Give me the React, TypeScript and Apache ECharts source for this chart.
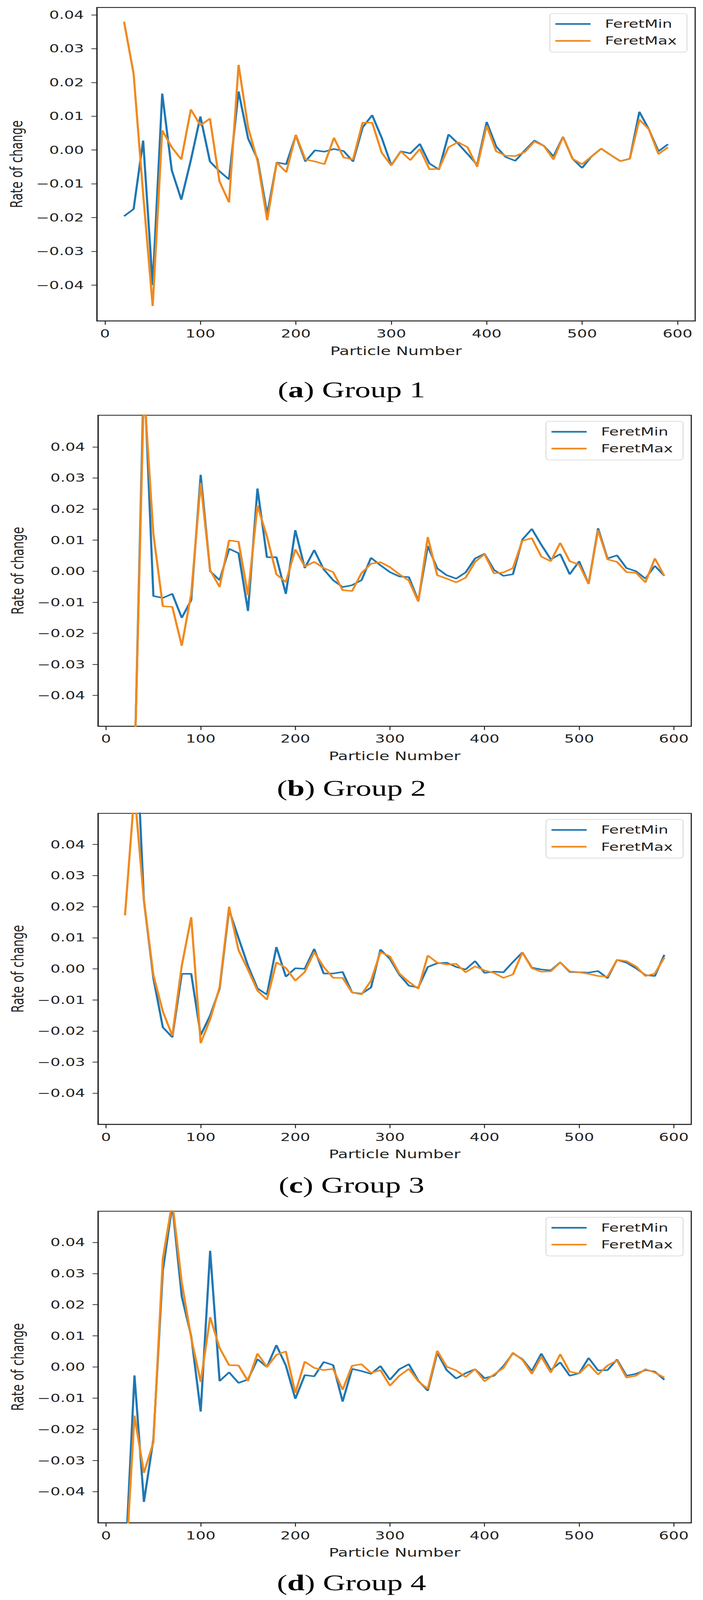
import React, { useEffect, useRef } from "react";
import * as echarts from "echarts";

// ---------- data ----------
const particleNumbers = [
  20, 30, 40, 50, 60, 70, 80, 90, 100, 110, 120, 130, 140, 150, 160, 170, 180, 190, 200, 210,
  220, 230, 240, 250, 260, 270, 280, 290, 300, 310, 320, 330, 340, 350, 360, 370, 380, 390, 400,
  410, 420, 430, 440, 450, 460, 470, 480, 490, 500, 510, 520, 530, 540, 550, 560, 570, 580, 590,
];

const group1FeretMin = [
  -0.0196, -0.0175, 0.0028, -0.04, 0.0167, -0.006, -0.0147, -0.003, 0.0099, -0.0034, -0.0063,
  -0.0087, 0.0173, 0.0034, -0.0028, -0.019, -0.0037, -0.0042, 0.0043, -0.0034, -0.0001, -0.0005,
  0.0003, -0.0003, -0.0034, 0.0067, 0.0103, 0.0036, -0.0045, -0.0004, -0.001, 0.0018, -0.004,
  -0.0058, 0.0046, 0.0019, -0.0012, -0.0044, 0.0083, 0.001, -0.0021, -0.0032, -0.0001, 0.0028,
  0.0012, -0.0019, 0.0039, -0.0026, -0.0053, -0.0019, 0.0004, -0.0015, -0.0033, -0.0026, 0.0113,
  0.0061, -0.0004, 0.0017,
];
const group1FeretMax = [
  0.038, 0.0226, -0.013, -0.0462, 0.0058, 0.0008, -0.0028, 0.012, 0.0073, 0.0093, -0.0093,
  -0.0155, 0.0252, 0.0067, -0.0034, -0.0208, -0.0037, -0.0066, 0.0045, -0.0028, -0.0034, -0.0042,
  0.0036, -0.0022, -0.0028, 0.0081, 0.0081, -0.0008, -0.0046, -0.0004, -0.003, 0.0003, -0.0057,
  -0.0056, 0.0008, 0.0023, 0.0008, -0.005, 0.0072, -0.0004, -0.0017, -0.0018, -0.0006, 0.0025,
  0.0012, -0.0028, 0.0039, -0.0026, -0.0042, -0.0019, 0.0004, -0.0015, -0.0033, -0.0026, 0.009,
  0.0061, -0.0012, 0.0008,
];

const group2FeretMin = [
  -0.08, -0.065, 0.065, -0.008, -0.0086, -0.0073, -0.015, -0.0093, 0.031, 0.0, -0.0029, 0.0072,
  0.0058, -0.0128, 0.0266, 0.0045, 0.0045, -0.0073, 0.0132, 0.001, 0.0068, 0.0006, -0.0029,
  -0.0051, -0.0045, -0.0029, 0.0043, 0.0019, -0.0003, -0.0017, -0.0019, -0.0095, 0.0081, 0.0009,
  -0.0013, -0.0024, -0.0004, 0.0041, 0.0056, 0.0004, -0.0015, -0.001, 0.0102, 0.0136, 0.0085,
  0.0038, 0.0055, -0.001, 0.0032, -0.0041, 0.0138, 0.0041, 0.0051, 0.001, 0.0, -0.0024, 0.0017,
  -0.0015,
];
const group2FeretMax = [
  -0.08, -0.065, 0.059, 0.012, -0.0113, -0.0115, -0.024, -0.0073, 0.0284, 0.0003, -0.0051, 0.0099,
  0.0095, -0.0077, 0.0211, 0.0112, -0.001, -0.0035, 0.007, 0.0015, 0.003, 0.001, -0.0003, -0.0061,
  -0.0064, -0.0006, 0.0024, 0.0029, 0.0013, -0.001, -0.003, -0.0098, 0.011, -0.0013, -0.0024,
  -0.0036, -0.0021, 0.003, 0.0055, -0.0007, -0.0004, 0.001, 0.0098, 0.0106, 0.0047, 0.0032, 0.0091,
  0.0032, 0.0021, -0.0041, 0.0132, 0.0038, 0.003, -0.0003, -0.0005, -0.0036, 0.0041, -0.0015,
];

const group3FeretMin = [
  0.06, 0.088, 0.022, -0.003, -0.0188, -0.022, -0.0016, -0.0016, -0.0213, -0.015, -0.0064, 0.019,
  0.0099, 0.001, -0.0063, -0.0083, 0.007, -0.0025, 0.0002, 0.0, 0.0064, -0.0015, -0.0015, -0.001,
  -0.0076, -0.008, -0.006, 0.0062, 0.0032, -0.0019, -0.0054, -0.006, 0.0006, 0.0018, 0.002, 0.0006,
  -0.0002, 0.0025, -0.0013, -0.0009, -0.0011, 0.0022, 0.0053, 0.0004, -0.0002, -0.0005, 0.0021,
  -0.001, -0.0011, -0.0012, -0.0007, -0.003, 0.0029, 0.002, 0.0002, -0.002, -0.0023, 0.0045,
];
const group3FeretMax = [
  0.0172, 0.057, 0.022, -0.002, -0.0137, -0.0215, 0.001, 0.0166, -0.0239, -0.0162, -0.0059, 0.02,
  0.006, -0.0003, -0.007, -0.0099, 0.0021, 0.0003, -0.0038, -0.001, 0.0054, 0.0006, -0.0029,
  -0.0029, -0.0076, -0.0082, -0.0038, 0.0054, 0.004, -0.0015, -0.0042, -0.0064, 0.0043, 0.002,
  0.0014, 0.0016, -0.0011, 0.0008, -0.0005, -0.0013, -0.0029, -0.0018, 0.0053, 0.0002, -0.0009,
  -0.0008, 0.0021, -0.0008, -0.0011, -0.0016, -0.0023, -0.0025, 0.0029, 0.0025, 0.0008, -0.0023,
  -0.0015, 0.0036,
];

const group4FeretMin = [
  -0.065, -0.0027, -0.0433, -0.0232, 0.031, 0.052, 0.0226, 0.0099, -0.0143, 0.0373, -0.0045,
  -0.0017, -0.0051, -0.004, 0.0025, 0.0, 0.007, 0.0005, -0.0102, -0.0026, -0.003, 0.0016, 0.0006,
  -0.0111, -0.0006, -0.0013, -0.0022, 0.0003, -0.0041, -0.0007, 0.0009, -0.0044, -0.0076, 0.0046,
  -0.001, -0.0037, -0.002, -0.0007, -0.0036, -0.0028, 0.0003, 0.0044, 0.0025, -0.0013, 0.0043,
  -0.001, 0.0015, -0.0028, -0.002, 0.0029, -0.0011, -0.001, 0.0024, -0.0028, -0.0022, -0.001,
  -0.0015, -0.0041,
];
const group4FeretMax = [
  -0.068, -0.0156, -0.034, -0.0242, 0.0348, 0.053, 0.0271, 0.0093, -0.0048, 0.016, 0.0061, 0.0006,
  0.0005, -0.0045, 0.0043, 0.0, 0.0039, 0.005, -0.0083, 0.0017, -0.0003, -0.001, -0.0006, -0.0073,
  0.0004, 0.0009, -0.0019, -0.001, -0.006, -0.0028, -0.0006, -0.0046, -0.007, 0.0052, 0.0001,
  -0.0011, -0.0032, -0.0007, -0.0046, -0.0024, -0.0003, 0.0046, 0.0023, -0.0022, 0.0033, -0.0018,
  0.0041, -0.0015, -0.0021, 0.0009, -0.0024, 0.0005, 0.0021, -0.0034, -0.0028, -0.0007, -0.0018,
  -0.0034,
];

const xTickValues = [0, 100, 200, 300, 400, 500, 600];
const yTickValues = [-0.04, -0.03, -0.02, -0.01, 0, 0.01, 0.02, 0.03, 0.04];
const xAxisRange = [-8.5, 618.5];
const yAxisRanges = [
  [-0.0506, 0.0422],
  [-0.0499, 0.0502],
  [-0.05, 0.05],
  [-0.05, 0.05],
];
const seriesNames = ["FeretMin", "FeretMax"];
const xAxisTitle = "Particle Number";
const yAxisTitle = "Rate of change";
const captionLetters = ["a", "b", "c", "d"];
const captionTitles = ["Group 1", "Group 2", "Group 3", "Group 4"];
const feretMinGroups = [group1FeretMin, group2FeretMin, group3FeretMin, group4FeretMin];
const feretMaxGroups = [group1FeretMax, group2FeretMax, group3FeretMax, group4FeretMax];

// ---------- layout / style ----------
const PAGE_W = 1800;
const PAGE_H = 5799;
const gridBoxes = [
  { left: 248, top: 27, width: 1532, height: 1136 },
  { left: 251, top: 1505, width: 1519, height: 1127 },
  { left: 251, top: 2948, width: 1519, height: 1127 },
  { left: 251, top: 4390, width: 1519, height: 1129 },
];
const captionCenters = [1412, 2857, 4295, 5737];
const BLUE = "#1f77b4";
const ORANGE = "#f08a1e";
const INK = "#222222";
const SANS = "DejaVu Sans";
const SERIF = "Liberation Serif";

function fmtY(v: number): string {
  const s = Math.abs(v) < 1e-9 ? "0.00" : v.toFixed(2);
  return s.replace("-", "\u2212");
}

function buildOption() {
  const grid: any[] = [];
  const xAxis: any[] = [];
  const yAxis: any[] = [];
  const series: any[] = [];
  const legend: any[] = [];
  const graphic: any[] = [];

  gridBoxes.forEach((g, i) => {
    grid.push({
      left: g.left,
      top: g.top,
      width: g.width,
      height: g.height,
      show: true,
      borderColor: INK,
      borderWidth: 3,
      backgroundColor: "transparent",
      containLabel: false,
    });
    xAxis.push({
      type: "value",
      gridIndex: i,
      position: "bottom",
      min: xAxisRange[0],
      max: xAxisRange[1],
      name: xAxisTitle,
      nameLocation: "middle",
      nameGap: 88,
      nameTextStyle: { fontSize: 42, fontFamily: SANS, color: INK },
      axisLine: { show: true, onZero: false, lineStyle: { color: INK, width: 3 } },
      splitLine: { show: false },
      axisTick: {
        show: true,
        inside: false,
        length: 14,
        customValues: xTickValues,
        lineStyle: { color: INK, width: 2.5 },
      },
      axisLabel: {
        customValues: xTickValues,
        margin: 26,
        fontSize: 40,
        fontFamily: SANS,
        color: INK,
        formatter: (v: number) => String(Math.round(v)),
      },
    });
    yAxis.push({
      type: "value",
      gridIndex: i,
      position: "left",
      min: yAxisRanges[i][0],
      max: yAxisRanges[i][1],
      name: yAxisTitle,
      nameLocation: "middle",
      nameGap: 184,
      nameTextStyle: { fontSize: 42, fontFamily: SANS, color: INK },
      axisLine: { show: true, onZero: false, lineStyle: { color: INK, width: 3 } },
      splitLine: { show: false },
      axisTick: {
        show: true,
        inside: false,
        length: 14,
        customValues: yTickValues,
        lineStyle: { color: INK, width: 2.5 },
      },
      axisLabel: {
        customValues: yTickValues,
        margin: 33,
        fontSize: 40,
        fontFamily: SANS,
        color: INK,
        formatter: (v: number) => fmtY(v),
      },
    });
    const mins = feretMinGroups[i];
    const maxs = feretMaxGroups[i];
    series.push({
      type: "line",
      name: seriesNames[0],
      xAxisIndex: i,
      yAxisIndex: i,
      data: particleNumbers.map((x, k) => [x, mins[k]]),
      showSymbol: false,
      symbol: "none",
      clip: true,
      lineStyle: { color: BLUE, width: 5.5 },
      itemStyle: { color: BLUE },
      z: 2,
    });
    series.push({
      type: "line",
      name: seriesNames[1],
      xAxisIndex: i,
      yAxisIndex: i,
      data: particleNumbers.map((x, k) => [x, maxs[k]]),
      showSymbol: false,
      symbol: "none",
      clip: true,
      lineStyle: { color: ORANGE, width: 5.5 },
      itemStyle: { color: ORANGE },
      z: 3,
    });
    legend.push({
      data: seriesNames,
      orient: "vertical",
      align: "left",
      top: g.top + 22,
      right: PAGE_W - (g.left + g.width - 21),
      icon: "rect",
      itemWidth: 90,
      itemHeight: 6,
      itemGap: 21,
      padding: [18, 26, 21, 14],
      backgroundColor: "#ffffff",
      borderColor: "#d4d4d4",
      borderWidth: 2,
      borderRadius: 8,
      selectedMode: false,
      textStyle: {
        fontSize: 40,
        lineHeight: 40,
        fontFamily: SANS,
        color: INK,
        padding: [0, 0, 0, 32],
      },
    });
    graphic.push({
      type: "text",
      x: PAGE_W / 2,
      y: captionCenters[i],
      style: {
        text: `({b|${captionLetters[i]}}) ${captionTitles[i]}`,
        fontSize: 80,
        fontFamily: SERIF,
        fill: "#000",
        align: "center",
        verticalAlign: "middle",
        rich: {
          b: { fontSize: 80, fontFamily: SERIF, fontWeight: "bold", fill: "#000" },
        },
      },
    });
  });

  return {
    animation: false,
    backgroundColor: "#ffffff",
    grid,
    xAxis,
    yAxis,
    series,
    legend,
    graphic,
  };
}

export default function App() {
  const ref = useRef<HTMLDivElement | null>(null);
  // The browser viewport may be shorter than the figure; squeeze vertically so the
  // whole figure stays visible (identity when the viewport is tall enough).
  const fitScale =
    typeof window !== "undefined" && window.innerHeight > 0
      ? Math.min(1, window.innerHeight / PAGE_H)
      : 1;
  useEffect(() => {
    if (!ref.current) return;
    document.body.style.margin = "0";
    const chart = echarts.init(ref.current, undefined, { renderer: "svg" });
    chart.setOption(buildOption() as any);
    return () => chart.dispose();
  }, []);
  return (
    <div
      style={{
        width: PAGE_W,
        height: Math.floor(PAGE_H * fitScale),
        overflow: "hidden",
        position: "relative",
      }}
    >
      <div
        ref={ref}
        style={{
          width: PAGE_W,
          height: PAGE_H,
          transform: `scaleY(${fitScale})`,
          transformOrigin: "0 0",
        }}
      />
    </div>
  );
}
